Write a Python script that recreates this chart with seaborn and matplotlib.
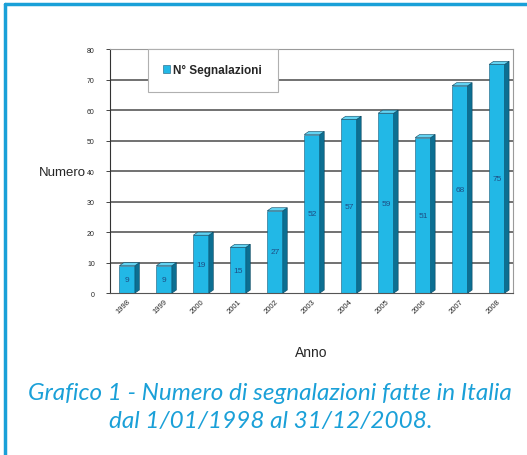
import matplotlib
matplotlib.use('Agg')
import matplotlib.pyplot as plt
import seaborn as sns
import pandas as pd
from matplotlib.patches import Polygon
from matplotlib.lines import Line2D

# dati
anni = ['1998', '1999', '2000', '2001', '2002', '2003', '2004', '2005', '2006', '2007', '2008']
segnalazioni = [9, 9, 19, 15, 27, 52, 57, 59, 51, 68, 75]
y_ticks = [0, 10, 20, 30, 40, 50, 60, 70, 80]

df = pd.DataFrame({'Anno': anni, 'Numero': segnalazioni})

front = '#22b8e6'
side = '#0c6f92'
top = '#63d3f2'
blu = '#1aa0d8'

sns.set_style('white')
plt.rcParams['font.family'] = ['Liberation Sans', 'DejaVu Sans']

fig = plt.figure(figsize=(5.27, 4.56), dpi=100)
ax = fig.add_axes([0.209, 0.355, 0.764, 0.535])

# griglia
for t in y_ticks[1:]:
    ax.axhline(t, color='#4a4a4a', lw=1.1, zorder=0)

sns.barplot(data=df, x='Anno', y='Numero', color=front, width=0.42,
            edgecolor='#1b5a78', linewidth=0.4, saturation=1, ax=ax,
            label='N° Segnalazioni', zorder=2)

# effetto 3D: facce laterali e superiori calcolate dalle barre
dx, dy = 0.12, 1.0
for p, v in zip(ax.patches, segnalazioni):
    x0, w, h = p.get_x(), p.get_width(), p.get_height()
    x1 = x0 + w
    ax.add_patch(Polygon([(x1, 0), (x1 + dx, dy), (x1 + dx, h + dy), (x1, h)],
                         closed=True, facecolor=side, edgecolor='#0a4660', lw=0.4, zorder=2))
    ax.add_patch(Polygon([(x0, h), (x0 + dx, h + dy), (x1 + dx, h + dy), (x1, h)],
                         closed=True, facecolor=top, edgecolor='#0a4660', lw=0.4, zorder=2))
    ax.text(x0 + w / 2, h / 2, str(v), ha='center', va='center',
            fontsize=6, color='#1d4f86', zorder=3)

ax.set_ylim(0, 80)
ax.set_xlim(-0.46, 10.43)
ax.set_yticks(y_ticks)
ax.tick_params(axis='y', labelsize=5, length=3, width=0.6, direction='out', left=True, pad=8)
ax.tick_params(axis='x', labelsize=5.5, length=0, pad=3)
for lab in ax.get_xticklabels():
    lab.set_rotation(45)
    lab.set_ha('right')
    lab.set_rotation_mode('anchor')

for s in ax.spines.values():
    s.set_color('#9a9a9a')
    s.set_linewidth(0.8)
ax.spines['left'].set_color('#333333')
ax.spines['bottom'].set_color('#555555')

ax.set_xlabel('Anno', fontsize=10, labelpad=22)
ax.set_ylabel('')
fig.text(0.073, 0.62, 'Numero', fontsize=9.5, ha='left', va='center')

leg = ax.legend(loc='center left', bbox_to_anchor=(0.094, 0.807, 0.323, 0.213),
                mode='expand', frameon=True, fancybox=False, edgecolor='#b0b0b0',
                framealpha=1, fontsize=8.5, handlelength=0.6, handleheight=0.6,
                handletextpad=0.2, borderpad=1.3, borderaxespad=0)
leg.get_frame().set_linewidth(0.8)
for t in leg.get_texts():
    t.set_fontweight('bold')
leg.set_zorder(5)

# cornice blu
fig.add_artist(Line2D([0.0095, 1.0], [0.989, 0.989], transform=fig.transFigure, color=blu, lw=2.5))
fig.add_artist(Line2D([0.0095, 0.0095], [0.0, 0.989], transform=fig.transFigure, color=blu, lw=2.5))

fig.text(0.513, 0.137, 'Grafico 1 - Numero di segnalazioni fatte in Italia',
         family='Lato', style='italic', fontsize=17.5, color=blu,
         ha='center', va='center')
fig.text(0.513, 0.075, 'dal 1/01/1998 al 31/12/2008.',
         family='Lato', style='italic', fontsize=17.5, color=blu,
         ha='center', va='center')

fig.savefig('out.png', dpi=100)
